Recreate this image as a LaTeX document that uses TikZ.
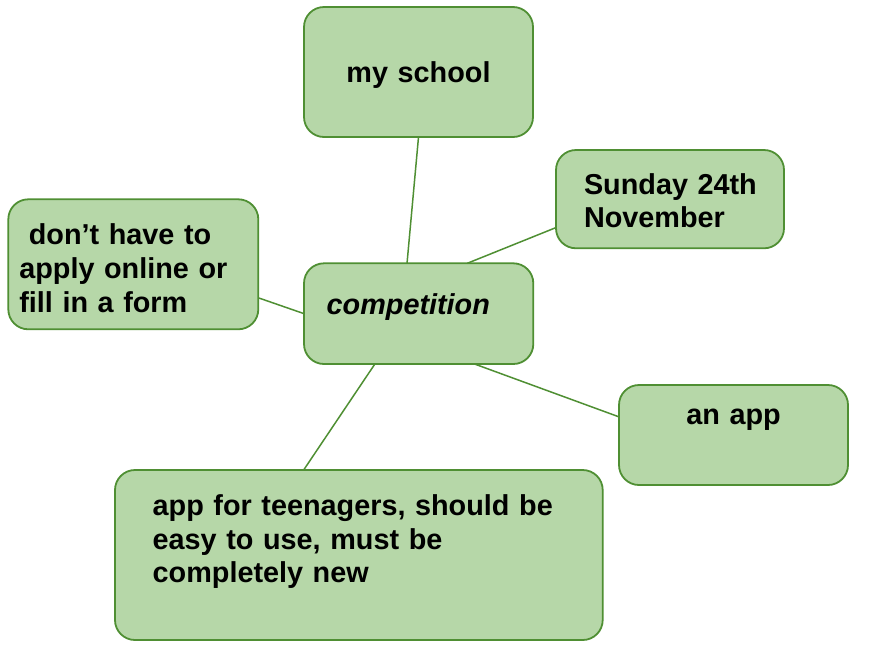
\documentclass[tikz,border=0pt]{standalone}
\usepackage{fontspec}
\setmainfont{Liberation Sans}
\definecolor{boxfill}{HTML}{B6D7A8}
\definecolor{boxline}{HTML}{4F8F33}

\begin{document}
\begin{tikzpicture}[x=1pt, y=-1pt]
	\tikzstyle{bubble} = [draw=boxline, fill=boxfill, line width=1.8pt, rounded corners=20pt, inner xsep=0pt, inner ysep=0pt, outer sep=0pt, anchor=north west, align=left, font=\fontsize{28.8}{33.8}\selectfont\bfseries]
	\tikzstyle{link} = [draw=boxline, line width=1.5pt]

	\useasboundingbox (0,0) rectangle (891,646);

	\path
	node[bubble, align=center, text width=229pt, text height=75.5pt, text depth=54.5pt] (school) at (304,7) {my school}
	node[bubble, inner xsep=28pt, text width=172pt, text height=44pt, text depth=54.3pt] (sunday) at (556,150) {Sunday~24th\\November}
	node[bubble, inner xsep=11pt, text width=228pt, text height=45.5pt, text depth=84.5pt] (form) at (8.3,199.3) {\ don’t have to\\apply online or\\fill in a form}
	node[bubble, inner xsep=22.7pt, text width=183.9pt, text height=50.7pt, text depth=50pt] (comp) at (304,263.3) {\itshape competition}
	node[bubble, align=center, text width=229pt, text height=39.5pt, text depth=60.5pt] (app) at (619,385) {an app}
	node[bubble, inner xsep=37.7pt, text width=412.3pt, text height=45.3pt, text depth=124.7pt] (teen) at (115,470) {app for teenagers, should be\\easy to use, must be\\completely new}

	(school.south) edge[link] (comp.103)
	(sunday.194.6) edge[link] (comp.46.2)
	(form.345.7) edge[link] (comp.west)
	(comp.318.7) edge[link] (app.171.5)
	(comp.229.1) edge[link] (teen.123.8)
	;
\end{tikzpicture}
\end{document}
